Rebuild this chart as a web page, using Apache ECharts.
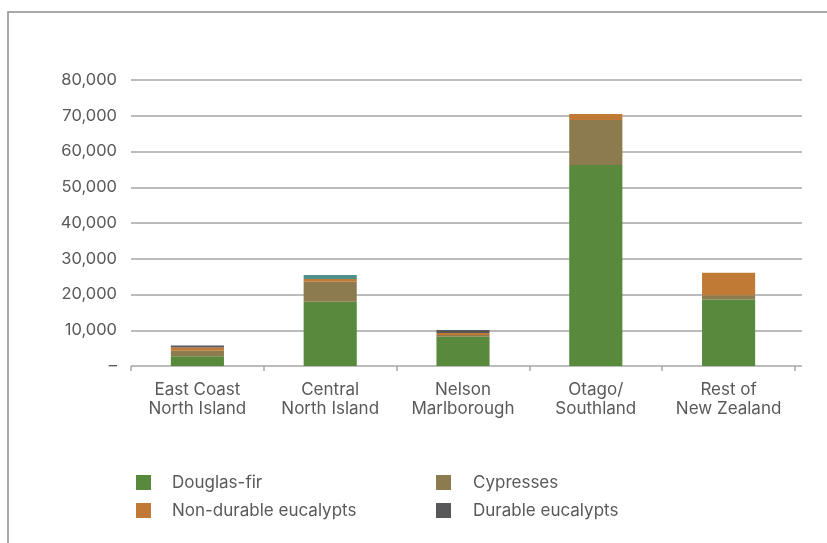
<!DOCTYPE html>
<html><head><meta charset="utf-8">
<script src="https://cdn.jsdelivr.net/npm/echarts@6/dist/echarts.min.js"></script>
<style>html,body{margin:0;padding:0;background:#fff}#c{width:827px;height:543px}</style>
</head><body><div id="c"></div>
<script>
const categories = ['East Coast\nNorth Island','Central\nNorth Island','Nelson\nMarlborough','Otago/\nSouthland','Rest of\nNew Zealand'];
const douglasFir = [2700, 18000, 8200, 56200, 18600];
const cypresses = [1600, 5600, 450, 12600, 1200];
const nonDurableEucalypts = [850, 750, 550, 1700, 6250];
const durableEucalypts = [550, 0, 850, 0, 0];
const otherSpecies = [0, 1100, 0, 0, 0];
const yTicks = [0, 10000, 20000, 30000, 40000, 50000, 60000, 70000, 80000];

const FONT = 'Inter';
const TXT = '#595959';
const GRID_C = '#a6a6a6';
const chart = echarts.init(document.getElementById('c'), null, {renderer:'canvas'});
const fmt = v => v === 0 ? '–' : v.toLocaleString('en-US');
const mk = (name, data, color) => ({name, type:'bar', stack:'s', data, xAxisIndex:1, yAxisIndex:1, barWidth:'40%', itemStyle:{color}, emphasis:{disabled:true}});
chart.setOption({
  animation:false,
  textStyle:{fontFamily:FONT},
  graphic:[{type:'rect', shape:{x:8,y:12,width:900,height:600}, style:{fill:'none', stroke:'#8c8c8c', lineWidth:1.5}}],
  grid:[
    {left:131, right:25, top:80, bottom:177},
    {left:131, right:32, top:80, bottom:177}
  ],
  xAxis:[
    {type:'value', gridIndex:0, min:0, max:1, show:true, axisLine:{show:false}, axisTick:{show:false}, axisLabel:{show:false}, splitLine:{show:false}},
    {type:'category', gridIndex:1, data:categories, axisLine:{show:false}, axisTick:{show:true, length:5, lineStyle:{color:GRID_C, width:1.5}, alignWithLabel:false},
     axisLabel:{color:TXT, fontSize:17, fontFamily:FONT, lineHeight:19, margin:14, interval:0}}
  ],
  yAxis:[
    {type:'value', gridIndex:0, min:yTicks[0], max:yTicks[yTicks.length-1], interval:10000, axisLine:{show:false}, axisTick:{show:false},
     axisLabel:{color:TXT, fontSize:16.5, fontFamily:FONT, margin:14, formatter:fmt},
     splitLine:{show:true, lineStyle:{color:GRID_C, width:1.5}}},
    {type:'value', gridIndex:1, min:yTicks[0], max:yTicks[yTicks.length-1], interval:10000, show:false, splitLine:{show:false}}
  ],
  legend:[
    {data:['Douglas-fir','Non-durable eucalypts'], orient:'vertical', left:131, top:469, itemWidth:15, itemHeight:15, itemGap:11, icon:'rect',
     textStyle:{color:TXT, fontSize:17, fontFamily:FONT, padding:[0,0,0,16]}, selectedMode:false},
    {data:['Cypresses','Durable eucalypts'], orient:'vertical', left:431, top:469, itemWidth:15, itemHeight:15, itemGap:11, icon:'rect',
     textStyle:{color:TXT, fontSize:17, fontFamily:FONT, padding:[0,0,0,17]}, selectedMode:false}
  ],
  series:[
    mk('Douglas-fir', douglasFir, '#58893c'),
    mk('Cypresses', cypresses, '#8b7b4e'),
    mk('Non-durable eucalypts', nonDurableEucalypts, '#c07a36'),
    mk('Durable eucalypts', durableEucalypts, '#58585a'),
    mk('Other', otherSpecies, '#4f918a')
  ]
});
</script></body></html>
